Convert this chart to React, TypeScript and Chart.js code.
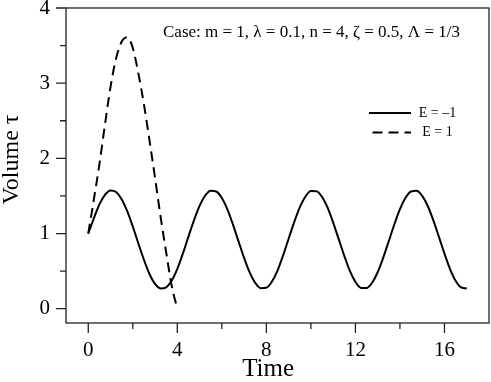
import React, { useEffect, useRef } from "react";
import { Chart, registerables } from "chart.js";

Chart.register(...registerables);

// ---- Data ----
const timeEneg = [
  0, 0.25, 0.5, 0.75, 1, 1.25, 1.5, 1.75, 2, 2.25, 2.5, 2.75, 3, 3.25, 3.5, 3.75,
  4, 4.25, 4.5, 4.75, 5, 5.25, 5.5, 5.75, 6, 6.25, 6.5, 6.75, 7, 7.25, 7.5, 7.75,
  8, 8.25, 8.5, 8.75, 9, 9.25, 9.5, 9.75, 10, 10.25, 10.5, 10.75, 11, 11.25, 11.5, 11.75,
  12, 12.25, 12.5, 12.75, 13, 13.25, 13.5, 13.75, 14, 14.25, 14.5, 14.75, 15, 15.25, 15.5, 15.75,
  16, 16.25, 16.5, 16.75, 17,
];
const volumeEneg = [
  1.0, 1.2, 1.387, 1.515, 1.573, 1.552, 1.457, 1.297, 1.093, 0.868, 0.651, 0.462, 0.329, 0.269, 0.285, 0.375,
  0.53, 0.734, 0.959, 1.177, 1.367, 1.504, 1.57, 1.559, 1.473, 1.321, 1.118, 0.895, 0.676, 0.483, 0.343, 0.273,
  0.278, 0.36, 0.507, 0.708, 0.931, 1.151, 1.347, 1.49, 1.565, 1.564, 1.488, 1.344, 1.146, 0.925, 0.703, 0.503,
  0.357, 0.277, 0.274, 0.346, 0.485, 0.68, 0.9, 1.123, 1.325, 1.475, 1.56, 1.569, 1.501, 1.366, 1.174, 0.955,
  0.732, 0.528, 0.373, 0.284, 0.269,
];

const timeEpos = [0, 0.25, 0.5, 0.75, 1, 1.25, 1.5, 1.75, 2, 2.25, 2.5, 2.75, 3, 3.25, 3.5, 3.75, 4];
const volumeEpos = [1.0, 1.45, 1.92, 2.45, 2.95, 3.33, 3.55, 3.61, 3.47, 3.13, 2.72, 2.24, 1.74, 1.22, 0.75, 0.3, 0.0];

const seriesLabels = ["E = \u20131", "E = 1"];
const xMajorTicks = [0, 4, 8, 12, 16];
const xMinorTicks = [2, 6, 10, 14];
const yMajorTicks = [0, 1, 2, 3, 4];
const yMinorTicks = [0.5, 1.5, 2.5, 3.5];
const xTitle = "Time   ";
const yTitle = "  Volume \u03c4";
const caseText = "Case: m = 1, \u03bb = 0.1, n = 4, \u03b6 = 0.5, \u039b = 1/3";

const SERIF = "'Liberation Serif', 'Times New Roman', serif";

const decorPlugin = {
  id: "decor",
  afterDraw(chart: any) {
    const { ctx, chartArea: ca, scales } = chart;
    const x = scales.x;
    const y = scales.y;
    ctx.save();
    // frame
    ctx.strokeStyle = "#222";
    ctx.lineWidth = 1.3;
    ctx.strokeRect(ca.left, ca.top, ca.right - ca.left, ca.bottom - ca.top);
    // outward ticks
    ctx.beginPath();
    xMajorTicks.forEach((v) => {
      const p = x.getPixelForValue(v);
      ctx.moveTo(p, ca.bottom);
      ctx.lineTo(p, ca.bottom + 10);
    });
    xMinorTicks.forEach((v) => {
      const p = x.getPixelForValue(v);
      ctx.moveTo(p, ca.bottom);
      ctx.lineTo(p, ca.bottom + 6);
    });
    yMajorTicks.forEach((v) => {
      const p = y.getPixelForValue(v);
      ctx.moveTo(ca.left, p);
      ctx.lineTo(ca.left - 10, p);
    });
    yMinorTicks.forEach((v) => {
      const p = y.getPixelForValue(v);
      ctx.moveTo(ca.left, p);
      ctx.lineTo(ca.left - 6, p);
    });
    ctx.stroke();

    // annotation text
    ctx.fillStyle = "#000";
    ctx.font = `17px ${SERIF}`;
    ctx.textAlign = "left";
    ctx.textBaseline = "middle";
    ctx.fillText(caseText, ca.left + 97, ca.top + 25);

    // legend
    const ds = chart.data.datasets;
    ds.forEach((d: any, i: number) => {
      const ly = ca.top + 105 + i * 19.5;
      ctx.beginPath();
      ctx.strokeStyle = d.borderColor;
      ctx.lineWidth = d.borderWidth;
      ctx.setLineDash(d.borderDash || []);
      ctx.moveTo(ca.left + (d.borderDash ? 306.5 : 303), ly);
      ctx.lineTo(ca.left + 345, ly);
      ctx.stroke();
      ctx.setLineDash([]);
      ctx.font = `14px ${SERIF}`;
      ctx.textAlign = "center";
      ctx.fillText(d.label, ca.left + 371.5, ly);
    });
    ctx.restore();
  },
};

export default function App() {
  const canvasRef = useRef<HTMLCanvasElement | null>(null);

  useEffect(() => {
    const canvas = canvasRef.current;
    if (!canvas) return;
    const chart = new Chart(canvas, {
      type: "line",
      data: {
        datasets: [
          {
            label: seriesLabels[0],
            data: timeEneg.map((t, i) => ({ x: t, y: volumeEneg[i] })),
            borderColor: "#000",
            borderWidth: 2,
            pointRadius: 0,
            cubicInterpolationMode: "monotone",
            fill: false,
          },
          {
            label: seriesLabels[1],
            data: timeEpos.map((t, i) => ({ x: t, y: volumeEpos[i] })),
            borderColor: "#000",
            borderWidth: 2,
            borderDash: [10, 6],
            pointRadius: 0,
            cubicInterpolationMode: "monotone",
            fill: false,
          },
        ],
      },
      options: {
        animation: false,
        responsive: false,
        devicePixelRatio: 1,
        layout: { padding: { top: 8, right: 2, left: 0, bottom: 0 } },
        plugins: {
          legend: { display: false },
          tooltip: { enabled: false },
        },
        scales: {
          x: {
            type: "linear",
            min: -1,
            max: 18,
            afterBuildTicks: (scale: any) => {
              scale.ticks = xMajorTicks.map((v) => ({ value: v }));
            },
            afterFit: (scale: any) => {
              scale.height = 59;
              scale.paddingLeft = 0;
              scale.paddingRight = 0;
              scale.paddingTop = 0;
              scale.paddingBottom = 0;
            },
            grid: {
              drawOnChartArea: false,
              drawTicks: true,
              tickLength: 10,
              color: "rgba(0,0,0,0)",
            },
            border: { display: false },
            ticks: {
              padding: 5,
              color: "#000",
              maxRotation: 0,
              font: { family: SERIF, size: 21 },
            },
            title: {
              display: true,
              text: xTitle,
              color: "#000",
              padding: 0,
              font: { family: SERIF, size: 25, lineHeight: 1 },
            },
          },
          y: {
            type: "linear",
            min: -0.19,
            max: 4,
            afterBuildTicks: (scale: any) => {
              scale.ticks = yMajorTicks.map((v) => ({ value: v }));
            },
            afterFit: (scale: any) => {
              scale.width = 66;
              scale.paddingLeft = 0;
              scale.paddingRight = 0;
              scale.paddingTop = 0;
              scale.paddingBottom = 0;
            },
            grid: {
              drawOnChartArea: false,
              drawTicks: true,
              tickLength: 10,
              color: "rgba(0,0,0,0)",
            },
            border: { display: false },
            ticks: {
              padding: 6,
              color: "#000",
              font: { family: SERIF, size: 21 },
            },
            title: {
              display: true,
              text: yTitle,
              color: "#000",
              padding: 0,
              font: { family: SERIF, size: 24, lineHeight: 1 },
            },
          },
        },
      },
      plugins: [decorPlugin],
    });
    return () => chart.destroy();
  }, []);

  return (
    <div style={{ position: "absolute", left: 0, top: 0, width: 491, height: 382, background: "#fff" }}>
      <canvas ref={canvasRef} width={491} height={382} style={{ display: "block" }} />
    </div>
  );
}
